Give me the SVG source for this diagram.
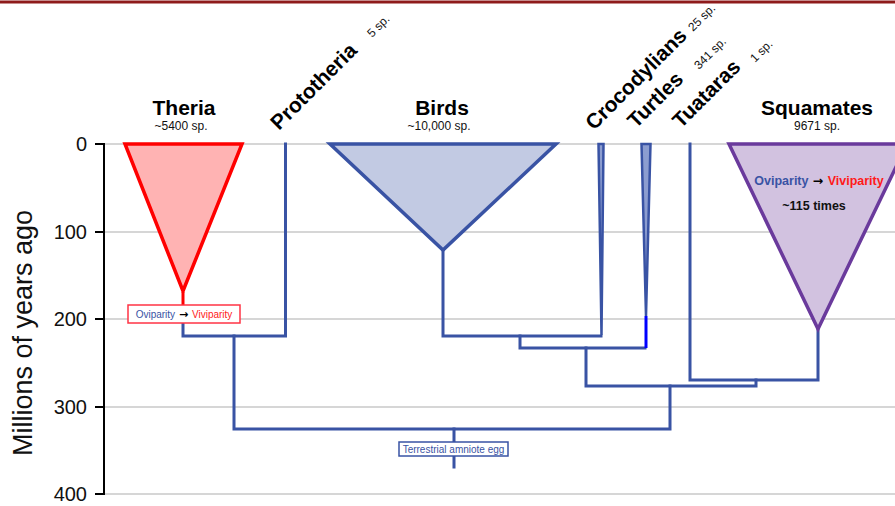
<svg xmlns="http://www.w3.org/2000/svg" width="895" height="506" viewBox="0 0 895 506">
<style>
text{font-family:"Liberation Sans",Arial,sans-serif;}
.grid{stroke:#c8c8c8;stroke-width:1.4;}
.axis{stroke:#000;stroke-width:2;fill:none;}
.tick{font-size:20px;text-anchor:end;fill:#111;}
.tree{stroke:#3953a4;stroke-width:3;fill:none;stroke-linejoin:miter;stroke-linecap:square;}
.lab{font-size:21px;font-weight:bold;fill:#000;}
.sub{font-size:12px;fill:#111;}
.small{font-size:12px;fill:#111;}
.blue{fill:#3953a4;}
.red{fill:#ff1a1a;}
.arr{font-family:"DejaVu Sans",sans-serif;font-weight:bold;fill:#000;}
</style>
<rect x="0" y="0" width="895" height="506" fill="#fff"/>
<rect x="0" y="0.5" width="895" height="3" fill="#8e1b1b"/>
<g id="grid">
<line class="grid" x1="104" y1="144" x2="895" y2="144"/>
<line class="grid" x1="104" y1="232" x2="895" y2="232"/>
<line class="grid" x1="104" y1="319" x2="895" y2="319"/>
<line class="grid" x1="104" y1="407" x2="895" y2="407"/>
<line class="grid" x1="104" y1="494" x2="895" y2="494"/>
</g>
<g id="axis">
<path class="axis" d="M104,143 V495 M95,144 H104 M95,232 H104 M95,319 H104 M95,407 H104 M95,494 H104"/>
<text class="tick" x="87" y="151">0</text>
<text class="tick" x="87" y="239">100</text>
<text class="tick" x="87" y="326">200</text>
<text class="tick" x="87" y="414">300</text>
<text class="tick" x="87" y="501">400</text>
<text transform="translate(32,333) rotate(-90)" text-anchor="middle" font-size="27" fill="#111">Millions of years ago</text>
</g>
<g id="connectors">
<path class="tree" d="M183,323 V336 H285.5 V144"/>
<path class="tree" d="M234,336 V429 H670 V386"/>
<path class="tree" d="M454,429 V442 M454,456 V467"/>
<path class="tree" d="M586,348 V386 H756 V380"/>
<path class="tree" d="M690,144 V380 H818 V329"/>
<path class="tree" d="M520,336 V348 H645"/>
<path class="tree" d="M443,250 V336 H601"/>
<line x1="183" y1="292" x2="183" y2="305" stroke="#ff0000" stroke-width="3"/>
<line x1="646" y1="316" x2="646" y2="348" stroke="#0000ff" stroke-width="3"/>
</g>
<g id="theria">
<polygon points="125,144 242,144 183,291" fill="#ffb3b3" stroke="#ff0000" stroke-width="3.5" stroke-linejoin="miter"/>
<text class="lab" x="184" y="115" text-anchor="middle">Theria</text>
<text class="sub" x="181" y="130" text-anchor="middle">~5400 sp.</text>
<rect x="128" y="305" width="112" height="18" fill="#fff" stroke="#ff3344" stroke-width="1.5"/>
<text x="184" y="318" text-anchor="middle" font-size="10"><tspan class="blue">Oviparity</tspan><tspan class="arr" font-size="11"> → </tspan><tspan class="red">Viviparity</tspan></text>
</g>
<g id="prototheria">
<text class="lab" transform="translate(279,131) rotate(-45)">Prototheria</text>
<text class="small" transform="translate(372,38) rotate(-45)">5 sp.</text>
</g>
<g id="birds">
<polygon points="330,144 556,144 443,250" fill="#c2cae3" stroke="#3953a4" stroke-width="3.5"/>
<text class="lab" x="442" y="115" text-anchor="middle">Birds</text>
<text class="sub" x="439" y="130" text-anchor="middle">~10,000 sp.</text>
</g>
<g id="crocodylians">
<polygon points="598.5,144 603.5,144 601.5,335" fill="#8c9dd0" stroke="#3953a4" stroke-width="2.5"/>
<text class="lab" transform="translate(594,131) rotate(-45)">Crocodylians</text>
<text class="small" transform="translate(693,32) rotate(-45)">25 sp.</text>
</g>
<g id="turtles">
<polygon points="641.5,144 650.5,144 646,316" fill="#8c9dd0" stroke="#3953a4" stroke-width="2.5"/>
<text class="lab" transform="translate(636,129) rotate(-45)">Turtles</text>
<text class="small" transform="translate(699,70) rotate(-45)">341 sp.</text>
</g>
<g id="tuataras">
<text class="lab" transform="translate(681,129) rotate(-45)">Tuataras</text>
<text class="small" transform="translate(755,63) rotate(-45)">1 sp.</text>
</g>
<g id="squamates">
<polygon points="729,144 907,144 818,329" fill="#d2c2e0" stroke="#6a3a9c" stroke-width="3.5"/>
<text class="lab" x="817" y="115" text-anchor="middle">Squamates</text>
<text class="sub" x="817" y="130" text-anchor="middle">9671 sp.</text>
<text x="819" y="185" text-anchor="middle" font-size="12.5" font-weight="bold"><tspan class="blue">Oviparity</tspan><tspan class="arr" font-size="12.5"> → </tspan><tspan class="red">Viviparity</tspan></text>
<text x="814" y="210" text-anchor="middle" font-size="12.5" font-weight="bold" fill="#111">~115 times</text>
</g>
<g id="amniote-egg">
<rect x="399" y="442" width="109" height="14" fill="#fff" stroke="#3953a4" stroke-width="1.5"/>
<text x="453.5" y="452.5" text-anchor="middle" font-size="10" class="blue">Terrestrial amniote egg</text>
</g>
</svg>
